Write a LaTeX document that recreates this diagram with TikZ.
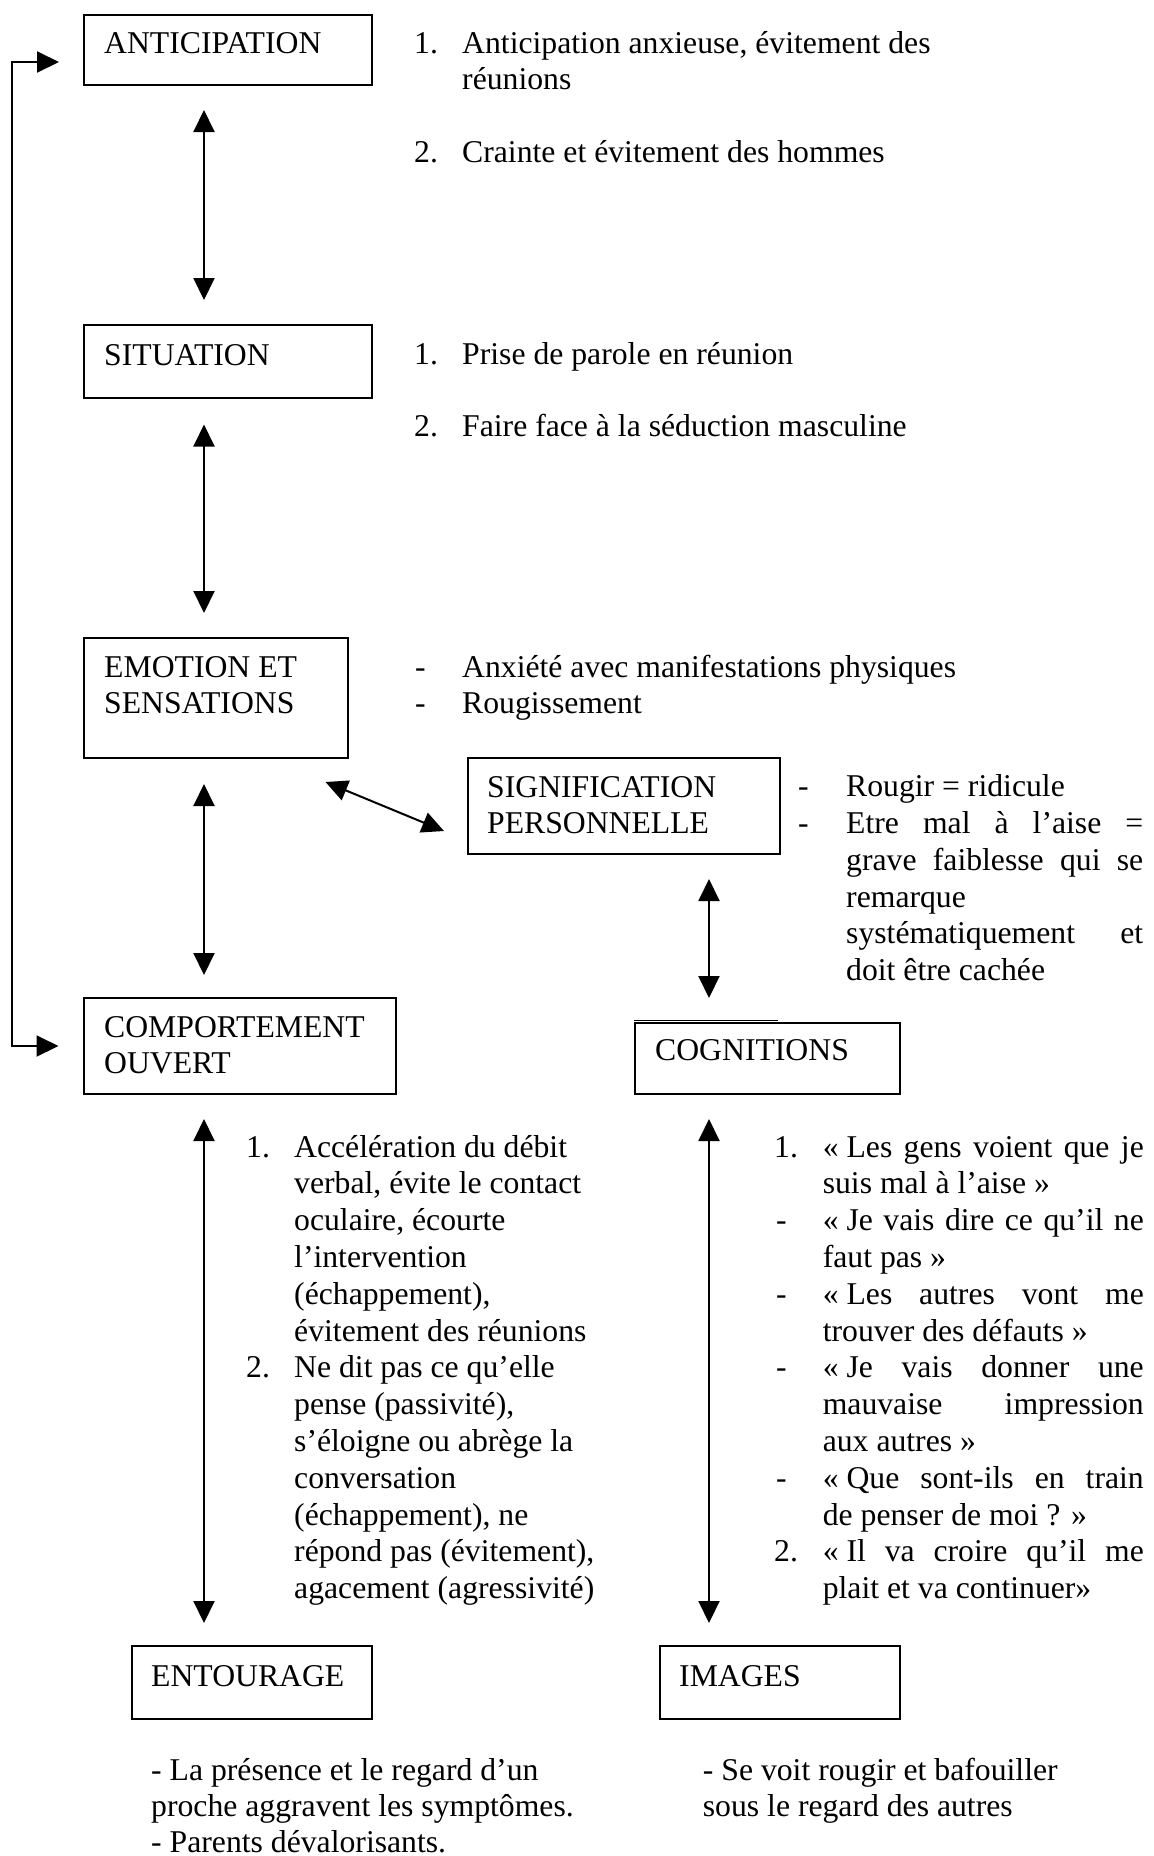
\documentclass[tikz,border=0pt]{standalone}
\usepackage{fontspec}
\setmainfont{Liberation Serif}
\usetikzlibrary{arrows.meta}
\newcommand{\jline}[2]{\makebox[#1][s]{#2}}
\newcommand{\gs}{«\hspace{0.25em}}
\begin{document}
\begin{tikzpicture}[x=1pt,y=-1pt,
  bx/.style={draw, line width=2pt, rectangle, inner sep=0pt, anchor=north west},
  txt/.style={anchor=base west, inner sep=0pt, font=\fontsize{31.7}{36.8}\selectfont},
  dbl/.style={line width=2pt, {Triangle[length=22pt,width=21pt]}-{Triangle[length=22pt,width=21pt]}}
]
\useasboundingbox (0,0) rectangle (1154,1856);
% boxes
\node[bx, minimum width=288pt, minimum height=70pt] (ant) at (83,14) {};
\node[bx, minimum width=288pt, minimum height=73pt] (sit) at (83,324) {};
\node[bx, minimum width=264pt, minimum height=120pt] (emo) at (82.5,637) {};
\node[bx, minimum width=311.5pt, minimum height=96pt] (sig) at (467,757) {};
\node[bx, minimum width=312.5pt, minimum height=96pt] (comp) at (82.5,997) {};
\node[bx, minimum width=265pt, minimum height=71.5pt] (cogn) at (634,1021.5) {};
\draw[line width=1.2pt] ([yshift=1.2pt]cogn.north west) -- ++(144pt,0);
\node[bx, minimum width=240pt, minimum height=73pt] (ent) at (131,1645) {};
\node[bx, minimum width=240.5pt, minimum height=73pt] (img) at (658.5,1645) {};
% box labels
\node[txt] (antT) at (104,53) {ANTICIPATION};
\node[txt] (sitT) at (104,365) {SITUATION};
\node[txt] (emoT1) at (104,677) {EMOTION ET};
\node[txt] (emoT2) at (104,713) {SENSATIONS};
\node[txt] (sigT1) at (487,797) {SIGNIFICATION};
\node[txt] (sigT2) at (487,833) {PERSONNELLE};
\node[txt] (compT1) at (104,1037) {COMPORTEMENT};
\node[txt] (compT2) at (104,1073) {OUVERT};
\node[txt] (cognT) at (655,1060) {COGNITIONS};
\node[txt] (entT) at (151,1686) {ENTOURAGE};
\node[txt] (imgT) at (679,1686) {IMAGES};
% top lists
\node[txt] (l1n) at (414,53) {1.};
\node[txt] (l1a) at (462,53) {Anticipation anxieuse, évitement des};
\node[txt] (l1b) at (462,89) {réunions};
\node[txt] (l2n) at (414,162) {2.};
\node[txt] (l2a) at (462,162) {Crainte et évitement des hommes};
\node[txt] (l3n) at (414,364) {1.};
\node[txt] (l3a) at (462,364) {Prise de parole en réunion};
\node[txt] (l4n) at (414,436) {2.};
\node[txt] (l4a) at (462,436) {Faire face à la séduction masculine};
% emotion list
\node[txt] (e1n) at (415,677) {-};
\node[txt] (e1a) at (462,677) {Anxiété avec manifestations physiques};
\node[txt] (e2n) at (415,713) {-};
\node[txt] (e2a) at (462,713) {Rougissement};
% signification list
\node[txt] (s1n) at (798,796) {-};
\node[txt] (s1a) at (846,796) {Rougir = ridicule};
\node[txt] (s2n) at (798,833) {-};
\node[txt] (s2a) at (846,833) {\jline{297pt}{Etre mal à l’aise =}};
\node[txt] (s2b) at (846,870) {\jline{297pt}{grave faiblesse qui se}};
\node[txt] (s2c) at (846,907) {remarque};
\node[txt] (s2d) at (846,943) {\jline{297pt}{systématiquement et}};
\node[txt] (s2e) at (846,980) {doit être cachée};
% comportement list
\node[txt] (c1n) at (246,1157) {1.};
\node[txt] (c1a) at (294,1157) {Accélération du débit};
\node[txt] (c1b) at (294,1193.8) {verbal, évite le contact};
\node[txt] (c1c) at (294,1230.6) {oculaire, écourte};
\node[txt] (c1d) at (294,1267.4) {l’intervention};
\node[txt] (c1e) at (294,1304.2) {(échappement),};
\node[txt] (c1f) at (294,1341) {évitement des réunions};
\node[txt] (c2n) at (246,1377.8) {2.};
\node[txt] (c2a) at (294,1377.8) {Ne dit pas ce qu’elle};
\node[txt] (c2b) at (294,1414.6) {pense (passivité),};
\node[txt] (c2c) at (294,1451.4) {s’éloigne ou abrège la};
\node[txt] (c2d) at (294,1488.2) {conversation};
\node[txt] (c2e) at (294,1525) {(échappement), ne};
\node[txt] (c2f) at (294,1561.8) {répond pas (évitement),};
\node[txt] (c2g) at (294,1598.6) {agacement (agressivité)};
% cognitions list
\node[txt] (g1n) at (774,1157) {1.};
\node[txt] (g1a) at (822.6,1157) {\jline{321pt}{\gs Les gens voient que je}};
\node[txt] (g1b) at (822.6,1193.8) {suis mal à l’aise »};
\node[txt] (g2n) at (776,1230.6) {-};
\node[txt] (g2a) at (822.6,1230.6) {\jline{321pt}{\gs Je vais dire ce qu’il ne}};
\node[txt] (g2b) at (822.6,1267.4) {faut pas »};
\node[txt] (g3n) at (776,1304.2) {-};
\node[txt] (g3a) at (822.6,1304.2) {\jline{321pt}{\gs Les autres vont me}};
\node[txt] (g3b) at (822.6,1341) {trouver des défauts »};
\node[txt] (g4n) at (776,1377.8) {-};
\node[txt] (g4a) at (822.6,1377.8) {\jline{321pt}{\gs Je vais donner une}};
\node[txt] (g4b) at (822.6,1414.6) {\jline{321pt}{mauvaise impression}};
\node[txt] (g4c) at (822.6,1451.4) {aux autres »};
\node[txt] (g5n) at (776,1488.2) {-};
\node[txt] (g5a) at (822.6,1488.2) {\jline{321pt}{\gs Que sont-ils en train}};
\node[txt] (g5b) at (822.6,1525) {de penser de moi ? »};
\node[txt] (g6n) at (774,1561.8) {2.};
\node[txt] (g6a) at (822.6,1561.8) {\jline{321pt}{\gs Il va croire qu’il me}};
\node[txt] (g6b) at (822.6,1598.6) {plait et va continuer»};
% bottom texts
\node[txt] (b1) at (151,1780) {- La présence et le regard d’un};
\node[txt] (b2) at (151,1816) {proche aggravent les symptômes.};
\node[txt] (b3) at (151,1852) {- Parents dévalorisants.};
\node[txt] (b4) at (702.7,1780) {- Se voit rougir et bafouiller};
\node[txt] (b5) at (702.7,1816) {sous le regard des autres};
% connectors
\draw[dbl] ([xshift=-24pt,yshift=-24pt]ant.south) -- ([xshift=-24pt,yshift=24pt]sit.north);
\draw[dbl] ([xshift=-24pt,yshift=-25.5pt]sit.south) -- ([xshift=-11.5pt,yshift=24pt]emo.north);
\draw[dbl] ([xshift=-11.5pt,yshift=-25pt]emo.south) -- ([xshift=-35.75pt,yshift=22pt]comp.north);
\draw[dbl] ([xshift=85.25pt,yshift=-24pt]sig.south) -- ([xshift=-58.5pt,yshift=23.5pt]cogn.north);
\draw[dbl] ([xshift=-35.75pt,yshift=-24pt]comp.south) -- ([xshift=-48pt,yshift=22pt]ent.north);
\draw[dbl] ([xshift=-58.5pt,yshift=-24pt]cogn.south) -- ([xshift=-70.75pt,yshift=22pt]img.north);
\draw[dbl] ([xshift=-23pt,yshift=-23pt]emo.south east) -- ([xshift=-23pt,yshift=-25pt]sig.west);
\draw[dbl] ([xshift=-24pt,yshift=-12pt]ant.west) -- ++(-47pt,0) |- ([xshift=-24pt]comp.west);
\end{tikzpicture}
\end{document}
